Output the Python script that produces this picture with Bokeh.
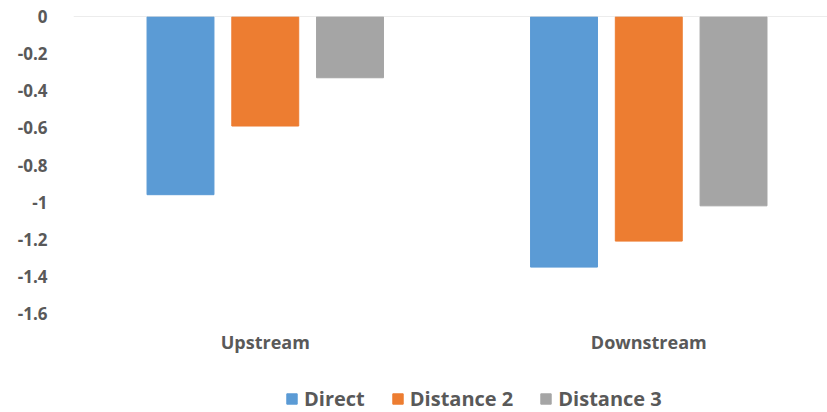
from bokeh.plotting import figure
from bokeh.models import (ColumnDataSource, Range1d, FixedTicker, Span, Legend, LegendItem)
from bokeh.core.properties import value
from bokeh.transform import dodge
from bokeh.embed import file_html
from bokeh.resources import INLINE

categories = ["Upstream", "Downstream"]
series_names = ["Direct", "Distance 2", "Distance 3"]
direct = [-0.96, -1.35]
distance2 = [-0.59, -1.21]
distance3 = [-0.33, -1.02]
colors = ["#5B9BD5", "#ED7D31", "#A5A5A5"]
y_ticks = [0, -0.2, -0.4, -0.6, -0.8, -1, -1.2, -1.4, -1.6]

FONT = "Open Sans"
TXT = "#595959"

# layout constants (pixels)
TOP = 16
PLOT_H = 297            # distance from 0 to -1.6
H = 412
px_per_unit = PLOT_H / 1.6
y_bottom = -(H - TOP) / px_per_unit
label_y = -(341 - TOP) / px_per_unit

xpos = [i + 0.5 for i in range(len(categories))]
source = ColumnDataSource(dict(x=xpos, cat=categories, d1=direct, d2=distance2, d3=distance3,
                               ly=[label_y] * len(categories)))

p = figure(width=827, height=H, output_backend="svg", toolbar_location=None,
           x_range=Range1d(0.0, 1.966), y_range=Range1d(y_bottom, 0),
           x_axis_location=None,
           min_border_top=TOP, min_border_left=73, min_border_right=0, min_border_bottom=0)
p.outline_line_color = None
p.xgrid.visible = False
p.ygrid.visible = False

offsets = [-0.221, 0.0, 0.221]
renderers = []
for col, off, c in zip(["d1", "d2", "d3"], offsets, colors):
    r = p.vbar(x=dodge("x", off), top=0, bottom=col, width=0.1745, source=source,
               fill_color=c, line_color=c, line_width=1)
    renderers.append(r)

p.add_layout(Span(location=0, dimension="width", line_color="#D9D9D9", line_width=1))

p.text(x="x", y="ly", text="cat", source=source, text_align="center", text_baseline="middle",
       text_font=value(FONT), text_font_style="bold", text_font_size="18px", text_color=TXT)

p.yaxis.ticker = FixedTicker(ticks=y_ticks)
p.yaxis.major_label_overrides = {t: ("%g" % t) for t in y_ticks}
p.yaxis.axis_line_color = None
p.yaxis.major_tick_line_color = None
p.yaxis.minor_tick_line_color = None
p.yaxis.major_label_text_font = FONT
p.yaxis.major_label_text_font_style = "bold"
p.yaxis.major_label_text_font_size = "17px"
p.yaxis.major_label_text_color = TXT
p.yaxis.major_label_standoff = 20

legend = Legend(items=[LegendItem(label=n, renderers=[r]) for n, r in zip(series_names, renderers)],
                orientation="horizontal", location=(212, 0),
                glyph_width=13, glyph_height=13, label_standoff=6, spacing=26,
                padding=0, margin=0, border_line_color=None, background_fill_alpha=0,
                label_text_font=FONT, label_text_font_style="bold",
                label_text_font_size="20px", label_text_color=TXT)
p.add_layout(legend, "center")

open("out.html", "w").write(file_html(p, INLINE))
